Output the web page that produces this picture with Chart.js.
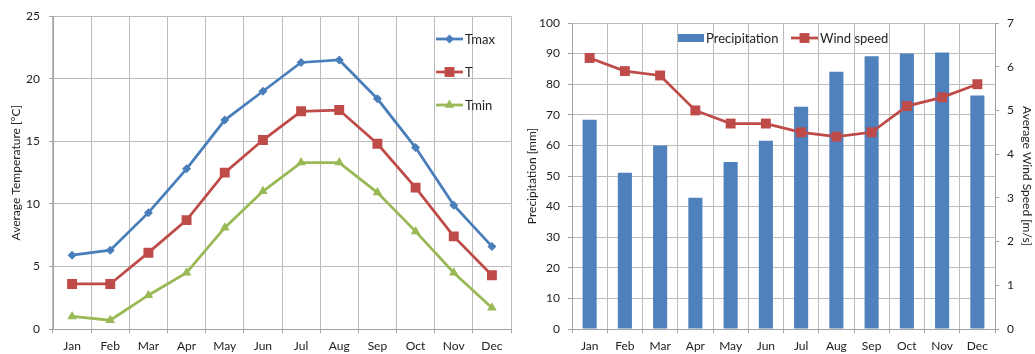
<!DOCTYPE html>
<html>
<head>
<meta charset="utf-8">
<script src="https://cdn.jsdelivr.net/npm/chart.js"></script>
<style>
  html, body { margin: 0; padding: 0; background: #fff; }
  #wrap { position: relative; width: 1035px; height: 354px; overflow: hidden; }
  #tempChart { position: absolute; left: 0; top: 0; }
  #precipChart { position: absolute; left: 518px; top: 0; }
</style>
</head>
<body>
<div id="wrap">
  <canvas id="tempChart" width="518" height="354"></canvas>
  <canvas id="precipChart" width="517" height="354"></canvas>
</div>
<script>
// monthly climate chart — temperature (left) and precip / wind (right)

const months = ["Jan", "Feb", "Mar", "Apr", "May", "Jun", "Jul", "Aug", "Sep", "Oct", "Nov", "Dec"];

const tMax = [5.9, 6.3, 9.3, 12.8, 16.7, 19.0, 21.3, 21.5, 18.4, 14.5, 9.9, 6.6];
const tMean = [3.6, 3.6, 6.1, 8.7, 12.5, 15.1, 17.4, 17.5, 14.8, 11.3, 7.4, 4.3];
const tMin = [1.0, 0.7, 2.7, 4.5, 8.1, 11.0, 13.3, 13.3, 10.9, 7.8, 4.5, 1.7];

const precip = [68.4, 51.1, 60.0, 42.9, 54.6, 61.5, 72.6, 84.1, 89.1, 90.0, 90.4, 76.3];
const windSpeed = [6.2, 5.9, 5.8, 5.0, 4.7, 4.7, 4.5, 4.4, 4.5, 5.1, 5.3, 5.6];

const FONT = "Lato, 'Open Sans', sans-serif";
const GRID = "#bcbcbc";
const AXIS = "#a3a3a3";
const TEXT = "#222";

Chart.defaults.font.family = FONT;
Chart.defaults.font.size = 12;
Chart.defaults.color = TEXT;

// ------------------------------------------------------
// markers + legend (drawn by hand so it can sit inside the plot)
// ------------------------------------------------------
function marker(ctx, style, x, y, r, color) {
  ctx.fillStyle = color;
  ctx.beginPath();
  if (style === "rectRot") {
    ctx.moveTo(x, y - r); ctx.lineTo(x + r, y); ctx.lineTo(x, y + r); ctx.lineTo(x - r, y);
  } else if (style === "rect") {
    const s = r * Math.SQRT1_2;
    ctx.rect(x - s, y - s, 2 * s, 2 * s);
  } else if (style === "triangle") {
    ctx.moveTo(x, y - r);
    ctx.lineTo(x + r * 0.866, y + r * 0.5);
    ctx.lineTo(x - r * 0.866, y + r * 0.5);
  }
  ctx.closePath();
  ctx.fill();
}

const handLegend = {
  id: "handLegend",
  afterDraw(chart, args, opts) {
    const ctx = chart.ctx;
    ctx.save();
    ctx.font = `13px ${FONT}`;
    ctx.textBaseline = "middle";
    ctx.textAlign = "left";
    (opts.items || []).forEach(it => {
      const ds = chart.data.datasets[it.index];
      if (ds.type === "bar") {
        ctx.fillStyle = ds.backgroundColor;
        ctx.fillRect(it.x, it.y - 4, it.w, 8);
      } else {
        ctx.strokeStyle = ds.borderColor;
        ctx.lineWidth = ds.borderWidth;
        ctx.beginPath();
        ctx.moveTo(it.x, it.y);
        ctx.lineTo(it.x + it.w, it.y);
        ctx.stroke();
        marker(ctx, ds.pointStyle, it.x + it.w / 2, it.y, ds.pointRadius, ds.pointBackgroundColor);
      }
      ctx.fillStyle = TEXT;
      ctx.fillText(ds.label, it.x + it.w + 2, it.y + 1);
    });
    ctx.restore();
  }
};

function xScale() {
  return {
    offset: true,
    grid: { offset: true, color: GRID, tickLength: 4, tickColor: AXIS },
    border: { color: AXIS },
    ticks: { padding: 6, maxRotation: 0, autoSkip: false },
    afterFit: s => { s.height = 25; }
  };
}

// ------------------------------------------------------
// Left: temperature
// ------------------------------------------------------
new Chart(document.getElementById("tempChart"), {
  type: "line",
  plugins: [handLegend],
  data: {
    labels: months,
    datasets: [
      { label: "Tmax", data: tMax, borderColor: "#4a7ebb", pointBackgroundColor: "#4a7ebb",
        pointBorderWidth: 0, borderWidth: 2.75, pointStyle: "rectRot", pointRadius: 4.5 },
      { label: "T", data: tMean, borderColor: "#be4b48", pointBackgroundColor: "#be4b48",
        pointBorderWidth: 0, borderWidth: 2.75, pointStyle: "rect", pointRadius: 7 },
      { label: "Tmin", data: tMin, borderColor: "#98b954", pointBackgroundColor: "#98b954",
        pointBorderWidth: 0, borderWidth: 2.75, pointStyle: "triangle", pointRadius: 5.5 }
    ]
  },
  options: {
    responsive: false,
    animation: false,
    layout: { padding: { top: 16, right: 2, left: 0, bottom: 0 } },
    plugins: {
      legend: { display: false },
      tooltip: { enabled: false },
      handLegend: {
        items: [
          { index: 0, x: 436, y: 39, w: 27 },
          { index: 1, x: 436, y: 72, w: 27 },
          { index: 2, x: 436, y: 105, w: 27 }
        ]
      }
    },
    scales: {
      x: xScale(),
      y: {
        min: 0, max: 25,
        ticks: { stepSize: 5, padding: 9 },
        grid: { color: GRID, tickLength: 4, tickColor: AXIS },
        border: { color: AXIS },
        title: { display: true, text: "Average Temperature [°C]", padding: { top: 9, bottom: 0 } },
        afterFit: s => { s.width = 53; }
      }
    }
  }
});

// ------------------------------------------------------
// Right: precipitation bars + wind speed line
// ------------------------------------------------------
new Chart(document.getElementById("precipChart"), {
  type: "bar",
  plugins: [handLegend],
  data: {
    labels: months,
    datasets: [
      { type: "line", label: "Wind speed", data: windSpeed, yAxisID: "y1",
        borderColor: "#be4b48", pointBackgroundColor: "#be4b48", pointBorderWidth: 0,
        borderWidth: 2.75, pointStyle: "rect", pointRadius: 7, order: 0 },
      { type: "bar", label: "Precipitation", data: precip, yAxisID: "y",
        backgroundColor: "#4f81bd", borderWidth: 0,
        categoryPercentage: 1.0, barPercentage: 0.4, order: 1 }
    ]
  },
  options: {
    responsive: false,
    animation: false,
    layout: { padding: { top: 23, right: 0, left: 0, bottom: 0 } },
    plugins: {
      legend: { display: false },
      tooltip: { enabled: false },
      handLegend: {
        items: [
          { index: 1, x: 160, y: 38, w: 26 },
          { index: 0, x: 273, y: 38, w: 27 }
        ]
      }
    },
    scales: {
      x: xScale(),
      y: {
        position: "left",
        min: 0, max: 100,
        ticks: { stepSize: 10, padding: 8 },
        grid: { color: GRID, tickLength: 4, tickColor: AXIS },
        border: { color: AXIS },
        title: { display: true, text: "Precipitation [mm]", padding: { top: 7, bottom: 0 } },
        afterFit: s => { s.width = 54; }
      },
      y1: {
        position: "right",
        min: 0, max: 7,
        ticks: { stepSize: 1, padding: 8 },
        grid: { drawOnChartArea: false, tickLength: 4, tickColor: AXIS },
        border: { color: AXIS },
        title: { display: true, text: "Average Wind Speed [m/s]", padding: { top: 1, bottom: 0 } },
        afterFit: s => { s.width = 40; }
      }
    }
  }
});
</script>
</body>
</html>
